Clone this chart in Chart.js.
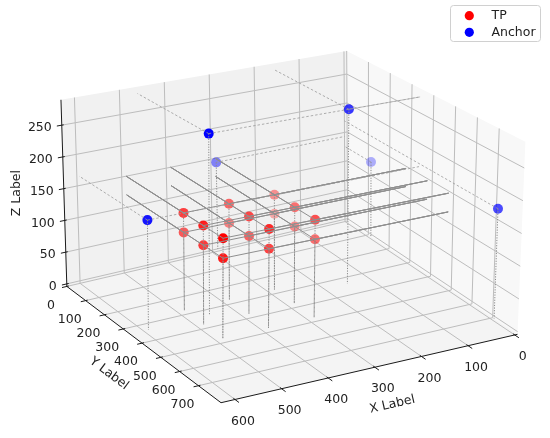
<!DOCTYPE html>
<html>
<head>
<meta charset="utf-8">
<script src="https://cdn.jsdelivr.net/npm/chart.js@4.4.1/dist/chart.umd.min.js"></script>
<style>
  html, body { margin: 0; padding: 0; background: #fff; }
</style>
</head>
<body>
<canvas id="chart" width="550" height="438"></canvas>
<script>
// TP points (x, y, z)
const tpX = [490, 490, 490, 490, 490, 490, 390, 390, 390, 390, 390, 390, 290, 290, 290, 290, 290, 290];
const tpY = [290, 290, 390, 390, 490, 490, 290, 290, 390, 390, 490, 490, 290, 290, 390, 390, 490, 490];
const tpZ = [120, 150, 120, 150, 120, 150, 120, 150, 120, 150, 120, 150, 120, 150, 120, 150, 120, 150];

// anchors (x, y, z)
const anchorX = [595, 0, 460, 155, 288, 0];
const anchorY = [350, 720, 350, 350, 0, 125];
const anchorZ = [165, 170, 279, 279, 143, 126];

const xTicks = [0, 100, 200, 300, 400, 500, 600];
const yTicks = [0, 100, 200, 300, 400, 500, 600, 700];
const zTicks = [0, 50, 100, 150, 200, 250];

// axis limits of the 3d box
const XLIM = [-6, 630];
const YLIM = [0, 820];
const ZLIM = [-4, 290];

// screen position of the box corners (o = xmin/ymin, x = xmax/ymin, y = xmin/ymax, xy = xmax/ymax)
const VIEW = {
  floor: { o: [349, 221], x: [63, 288], y: [522, 337], xy: [220, 407] },
  top:   { o: [348, 47],  x: [57, 97],  y: [530, 140], xy: [223, 193] }
};

function norm(x, y, z) {
  return [(x - XLIM[0]) / (XLIM[1] - XLIM[0]),
          (y - YLIM[0]) / (YLIM[1] - YLIM[0]),
          (z - ZLIM[0]) / (ZLIM[1] - ZLIM[0])];
}

function proj(x, y, z) {
  const [u, v, w] = norm(x, y, z);
  const bl = c => [0, 1].map(k =>
    (1 - u) * (1 - v) * c.o[k] + u * (1 - v) * c.x[k] + (1 - u) * v * c.y[k] + u * v * c.xy[k]);
  const f = bl(VIEW.floor), t = bl(VIEW.top);
  return { x: f[0] + (t[0] - f[0]) * w, y: f[1] + (t[1] - f[1]) * w };
}

// nearer points are more opaque, like matplotlib depthshade
function shade(xs, ys, zs) {
  const d = xs.map((x, i) => { const n = norm(x, ys[i], zs[i]); return n[0] + n[1] + n[2]; });
  const lo = Math.min(...d), hi = Math.max(...d);
  return d.map(v => 0.3 + 0.7 * (v - lo) / (hi - lo));
}

function seg(a, b, color, width, dash) {
  return {
    data: [proj(...a), proj(...b)],
    showLine: true, borderColor: color, borderWidth: width, borderDash: dash,
    pointRadius: 0, fill: false
  };
}

const datasets = [];
function dropLines(xs, ys, zs, wallColor, wallDash, wallWidth) {
  xs.forEach((x, i) => {
    const y = ys[i], z = zs[i];
    datasets.push(seg([x, y, z], [x, y, 0], '#8a8a8a', 1, [1.2, 1.4]));
    datasets.push(seg([x, y, z], [0, y, z], wallColor, wallWidth, wallDash));
    datasets.push(seg([x, y, z], [x, 0, z], wallColor, wallWidth, wallDash));
  });
}
dropLines(anchorX, anchorY, anchorZ, '#9a9a9a', [2.5, 2], 0.8);
dropLines(tpX, tpY, tpZ, '#8f8f8f', [], 1);

const tpAlpha = shade(tpX, tpY, tpZ);
const anchorAlpha = shade(anchorX, anchorY, anchorZ);

datasets.push({
  label: 'TP',
  data: tpX.map((x, i) => proj(x, tpY[i], tpZ[i])),
  pointRadius: 5, pointBorderWidth: 0,
  pointBackgroundColor: ctx => `rgba(255,0,0,${tpAlpha[ctx.dataIndex]})`
});
datasets.push({
  label: 'Anchor',
  data: anchorX.map((x, i) => proj(x, anchorY[i], anchorZ[i])),
  pointRadius: 5, pointBorderWidth: 0,
  pointBackgroundColor: ctx => `rgba(0,0,255,${anchorAlpha[ctx.dataIndex]})`
});

const FONT = '12.5px "DejaVu Sans", sans-serif';

const box3d = {
  id: 'box3d',
  beforeDatasetsDraw(chart) {
    const ctx = chart.ctx, sx = chart.scales.x, sy = chart.scales.y;
    const P = (x, y, z) => { const p = proj(x, y, z); return [sx.getPixelForValue(p.x), sy.getPixelForValue(p.y)]; };
    const [x0, x1] = XLIM, [y0, y1] = YLIM, [z0, z1] = ZLIM;

    const poly = (pts, fill) => {
      ctx.beginPath();
      pts.forEach((p, i) => { const q = P(...p); i ? ctx.lineTo(q[0], q[1]) : ctx.moveTo(q[0], q[1]); });
      ctx.closePath(); ctx.fillStyle = fill; ctx.fill();
    };
    const line = (a, b) => {
      const p = P(...a), q = P(...b);
      ctx.beginPath(); ctx.moveTo(p[0], p[1]); ctx.lineTo(q[0], q[1]); ctx.stroke();
    };

    ctx.save();
    // panes
    poly([[x0, y0, z0], [x1, y0, z0], [x1, y0, z1], [x0, y0, z1]], '#f1f1f1');
    poly([[x0, y0, z0], [x0, y1, z0], [x0, y1, z1], [x0, y0, z1]], '#f8f8f8');
    poly([[x0, y0, z0], [x1, y0, z0], [x1, y1, z0], [x0, y1, z0]], '#f4f4f4');

    // grid
    ctx.strokeStyle = '#bdbdbd'; ctx.lineWidth = 1;
    xTicks.forEach(t => { line([t, y0, z0], [t, y0, z1]); line([t, y0, z0], [t, y1, z0]); });
    yTicks.forEach(t => { line([x0, t, z0], [x0, t, z1]); line([x0, t, z0], [x1, t, z0]); });
    zTicks.forEach(t => { line([x0, y0, t], [x1, y0, t]); line([x0, y0, t], [x0, y1, t]); });

    // axis lines
    ctx.strokeStyle = '#1a1a1a'; ctx.lineWidth = 1;
    line([x1, y1, z0], [x0, y1, z0]);
    line([x1, y0, z0], [x1, y1, z0]);
    line([x1, y0, z0], [x1, y0, z1]);

    // tick marks
    const tick = (p, q) => {
      const a = P(...p), b = P(...q);
      const dx = b[0] - a[0], dy = b[1] - a[1], L = Math.hypot(dx, dy);
      const ux = dx / L, uy = dy / L;
      ctx.beginPath(); ctx.moveTo(a[0] - 2 * ux, a[1] - 2 * uy); ctx.lineTo(a[0] + 5 * ux, a[1] + 5 * uy); ctx.stroke();
    };
    xTicks.forEach(t => tick([t, y1, z0], [t, y1 + 50, z0]));
    yTicks.forEach(t => tick([x1, t, z0], [x1 + 50, t, z0]));
    zTicks.forEach(t => tick([x1, y0, t], [x1 + 50, y0, t]));
    ctx.restore();
  },
  afterDraw(chart) {
    const ctx = chart.ctx, sx = chart.scales.x, sy = chart.scales.y;
    const P = (x, y, z) => { const p = proj(x, y, z); return [sx.getPixelForValue(p.x), sy.getPixelForValue(p.y)]; };
    const [x0, x1] = XLIM, [y0, y1] = YLIM, [z0, z1] = ZLIM;
    ctx.save();
    ctx.font = FONT; ctx.fillStyle = '#222'; ctx.textBaseline = 'middle';

    ctx.textAlign = 'center';
    xTicks.forEach(t => { const p = P(t, y1, z0); ctx.fillText(String(t), p[0] + 8, p[1] + 22); });
    yTicks.forEach(t => { const p = P(x1, t, z0); ctx.fillText(String(t), p[0] - 16, p[1] + 19); });
    ctx.textAlign = 'right';
    zTicks.forEach(t => { const p = P(x1, y0, t); ctx.fillText(String(t), p[0] - 10, p[1] + 3); });

    const label = (text, p, dx, dy, angle) => {
      ctx.save(); ctx.translate(p[0] + dx, p[1] + dy); ctx.rotate(angle);
      ctx.textAlign = 'center'; ctx.fillText(text, 0, 0); ctx.restore();
    };
    const xa = P(x1, y1, z0), xb = P(x0, y1, z0);
    label('X Label', P((x0 + x1) / 2, y1, z0), 23, 36, Math.atan2(xb[1] - xa[1], xb[0] - xa[0]));
    const ya = P(x1, y0, z0), yb = P(x1, y1, z0);
    label('Y Label', P(x1, (y0 + y1) / 2, z0), -35, 29, Math.atan2(yb[1] - ya[1], yb[0] - ya[0]));
    label('Z Label', P(x1, y0, (z0 + z1) / 2), -47, 0, -Math.PI / 2);

    // legend
    const lx = 450.5, ly = 5.5, lw = 90, lh = 36, r = 3;
    ctx.beginPath();
    ctx.moveTo(lx + r, ly); ctx.lineTo(lx + lw - r, ly); ctx.arcTo(lx + lw, ly, lx + lw, ly + r, r);
    ctx.lineTo(lx + lw, ly + lh - r); ctx.arcTo(lx + lw, ly + lh, lx + lw - r, ly + lh, r);
    ctx.lineTo(lx + r, ly + lh); ctx.arcTo(lx, ly + lh, lx, ly + lh - r, r);
    ctx.lineTo(lx, ly + r); ctx.arcTo(lx, ly, lx + r, ly, r); ctx.closePath();
    ctx.fillStyle = 'rgba(255,255,255,0.85)'; ctx.fill();
    ctx.strokeStyle = '#d0d0d0'; ctx.lineWidth = 1; ctx.stroke();
    [['TP', '#ff0000', 15.7], ['Anchor', '#0000ff', 32.3]].forEach(([t, c, y]) => {
      ctx.beginPath(); ctx.arc(469.3, y, 4.6, 0, Math.PI * 2); ctx.fillStyle = c; ctx.fill();
      ctx.fillStyle = '#222'; ctx.textAlign = 'left'; ctx.fillText(t, 491.5, y);
    });
    ctx.restore();
  }
};

new Chart(document.getElementById('chart').getContext('2d'), {
  type: 'scatter',
  data: { datasets },
  options: {
    responsive: false,
    animation: false,
    devicePixelRatio: 1,
    events: [],
    layout: { padding: 0 },
    scales: {
      x: { type: 'linear', min: 0, max: 550, display: false },
      y: { type: 'linear', min: 0, max: 438, reverse: true, display: false }
    },
    plugins: { legend: { display: false }, tooltip: { enabled: false } }
  },
  plugins: [box3d]
});
</script>
</body>
</html>
